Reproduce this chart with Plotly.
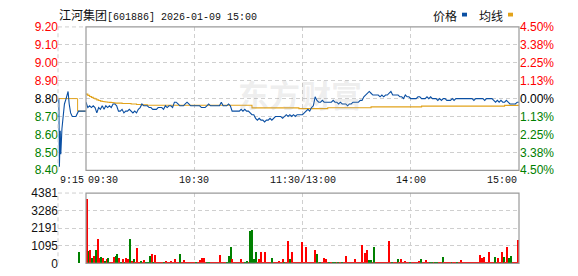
import plotly.graph_objects as go

# ---------------- data ----------------
stock_name = "江河集团"
stock_code = "601886"
timestamp = "2026-01-09 15:00"
legend_labels = ["价格", "均线"]
watermark = "东方财富"
prev_close = 8.80

price_ticks = [8.40, 8.50, 8.60, 8.70, 8.80, 8.90, 9.00, 9.10, 9.20]
price_tick_labels = ["8.40", "8.50", "8.60", "8.70", "8.80", "8.90", "9.00", "9.10", "9.20"]
pct_tick_labels = ["4.50%", "3.38%", "2.25%", "1.13%", "0.00%", "1.13%", "2.25%", "3.38%", "4.50%"]
vol_ticks = [0, 1095, 2191, 3286, 4381]
vol_tick_labels = ["0", "1095", "2191", "3286", "4381"]

pre_label = "9:15"
main_time_ticks = [0, 60, 120, 180, 240]
main_time_labels = ["09:30", "10:30", "11:30/13:00", "14:00", "15:00"]

# pre-market auction (minutes after 9:15)
pre_time = [0.3, 0.5, 0.8, 1.0, 1.4, 2.3, 2.9, 3.6, 4.0, 4.5, 5.1, 6.4, 7.3, 10.0]
pre_price = [8.80, 8.42, 8.62, 8.49, 8.63, 8.77, 8.80, 8.84, 8.77, 8.72, 8.70, 8.70, 8.73, 8.73]
pre_avg_time = [0.3, 7.0, 7.0, 10.0]
pre_avg = [8.80, 8.80, 8.73, 8.73]
pre_vol_time = [7.4]
pre_vol = [710]
pre_vol_dir = ["g"]

# minute index 0..240 (09:30 .. 11:30 | 13:01 .. 15:00)
minutes = list(range(241))

price = [
    8.78, 8.75, 8.76, 8.75, 8.76, 8.75, 8.72, 8.75, 8.74, 8.76,
    8.74, 8.76, 8.75, 8.76, 8.75, 8.77, 8.77, 8.76, 8.73, 8.73,
    8.74, 8.72, 8.73, 8.73, 8.74, 8.73, 8.72, 8.73, 8.72, 8.74,
    8.75, 8.77, 8.76, 8.76, 8.76, 8.75, 8.75, 8.74, 8.74, 8.74,
    8.75, 8.75, 8.75, 8.74, 8.76, 8.75, 8.76, 8.76, 8.75, 8.78,
    8.78, 8.77, 8.76, 8.76, 8.76, 8.77, 8.78, 8.77, 8.76, 8.76,
    8.76, 8.76, 8.76, 8.76, 8.75, 8.75, 8.75, 8.76, 8.77, 8.76,
    8.76, 8.76, 8.76, 8.76, 8.76, 8.78, 8.76, 8.76, 8.76, 8.77,
    8.76, 8.73, 8.73, 8.73, 8.73, 8.73, 8.74, 8.73, 8.74, 8.73,
    8.73, 8.72, 8.71, 8.71, 8.69, 8.68, 8.69, 8.68, 8.68, 8.67,
    8.68, 8.68, 8.69, 8.68, 8.69, 8.70, 8.70, 8.70, 8.70, 8.69,
    8.70, 8.71, 8.70, 8.71, 8.70, 8.71, 8.70, 8.71, 8.71, 8.71,
    8.71, 8.72, 8.73, 8.74, 8.73, 8.75, 8.76, 8.81, 8.79, 8.78,
    8.78, 8.79, 8.78, 8.78, 8.78, 8.78, 8.78, 8.79, 8.78, 8.78,
    8.77, 8.78, 8.77, 8.77, 8.77, 8.76, 8.77, 8.77, 8.78, 8.78,
    8.78, 8.78, 8.79, 8.79, 8.81, 8.82, 8.83, 8.84, 8.83, 8.82,
    8.82, 8.82, 8.82, 8.81, 8.82, 8.81, 8.82, 8.82, 8.83, 8.84,
    8.82, 8.82, 8.82, 8.82, 8.81, 8.81, 8.80, 8.82, 8.81, 8.81,
    8.80, 8.80, 8.80, 8.80, 8.81, 8.81, 8.80, 8.80, 8.80, 8.81,
    8.80, 8.81, 8.80, 8.80, 8.80, 8.79, 8.80, 8.79, 8.80, 8.80,
    8.79, 8.79, 8.79, 8.80, 8.79, 8.80, 8.80, 8.80, 8.80, 8.80,
    8.80, 8.80, 8.80, 8.80, 8.80, 8.79, 8.80, 8.80, 8.80, 8.80,
    8.80, 8.79, 8.80, 8.80, 8.80, 8.80, 8.79, 8.78, 8.79, 8.78,
    8.79, 8.78, 8.78, 8.79, 8.78, 8.77, 8.77, 8.77, 8.77, 8.78,
    8.78,
]

avg = [
    8.825, 8.818, 8.812, 8.807, 8.802, 8.798, 8.793, 8.789, 8.786, 8.784,
    8.782, 8.781, 8.780, 8.779, 8.778, 8.777, 8.775, 8.775, 8.775, 8.775,
    8.773, 8.773, 8.773, 8.773, 8.773, 8.770, 8.770, 8.770, 8.767, 8.767,
    8.767, 8.765, 8.765, 8.765, 8.763, 8.763, 8.763, 8.763, 8.763, 8.763,
    8.763, 8.763, 8.763, 8.763, 8.763, 8.763, 8.763, 8.763, 8.763, 8.763,
    8.763, 8.763, 8.763, 8.763, 8.763, 8.763, 8.763, 8.763, 8.763, 8.763,
    8.763, 8.763, 8.763, 8.763, 8.763, 8.763, 8.763, 8.763, 8.763, 8.763,
    8.763, 8.763, 8.763, 8.763, 8.763, 8.763, 8.763, 8.763, 8.763, 8.763,
    8.763, 8.763, 8.763, 8.763, 8.763, 8.763, 8.763, 8.763, 8.763, 8.763,
    8.763, 8.763, 8.748, 8.748, 8.748, 8.748, 8.748, 8.748, 8.748, 8.748,
    8.748, 8.748, 8.748, 8.748, 8.748, 8.748, 8.748, 8.748, 8.748, 8.748,
    8.748, 8.748, 8.748, 8.748, 8.748, 8.748, 8.748, 8.748, 8.744, 8.744,
    8.744, 8.744, 8.744, 8.744, 8.744, 8.744, 8.744, 8.744, 8.744, 8.744,
    8.744, 8.744, 8.744, 8.744, 8.749, 8.749, 8.749, 8.749, 8.749, 8.749,
    8.749, 8.749, 8.749, 8.749, 8.749, 8.749, 8.749, 8.749, 8.749, 8.749,
    8.749, 8.749, 8.749, 8.749, 8.749, 8.749, 8.749, 8.749, 8.754, 8.754,
    8.754, 8.754, 8.754, 8.754, 8.754, 8.754, 8.754, 8.754, 8.754, 8.754,
    8.754, 8.754, 8.754, 8.754, 8.754, 8.754, 8.754, 8.754, 8.754, 8.754,
    8.754, 8.754, 8.754, 8.754, 8.754, 8.754, 8.758, 8.758, 8.758, 8.758,
    8.758, 8.758, 8.758, 8.758, 8.758, 8.758, 8.758, 8.758, 8.758, 8.758,
    8.758, 8.758, 8.758, 8.758, 8.758, 8.758, 8.758, 8.758, 8.758, 8.758,
    8.758, 8.758, 8.758, 8.758, 8.758, 8.758, 8.758, 8.758, 8.758, 8.758,
    8.758, 8.758, 8.758, 8.758, 8.758, 8.758, 8.758, 8.758, 8.758, 8.758,
    8.758, 8.758, 8.762, 8.762, 8.762, 8.762, 8.762, 8.762, 8.762, 8.762,
    8.762,
]

volume = [
    4020, 770, 830, 355, 470, 830, 1540, 355, 415, 355,
    120, 240, 355, 60, 60, 415, 470, 590, 355, 60,
    295, 60, 355, 295, 1540, 120, 240, 60, 945, 60,
    120, 60, 180, 60, 60, 470, 590, 60, 530, 60,
    50, 60, 50, 40, 120, 50, 60, 120, 50, 240,
    60, 50, 590, 50, 180, 60, 50, 60, 50, 60,
    50, 40, 50, 180, 355, 355, 60, 50, 60, 50,
    60, 100, 50, 60, 530, 50, 60, 50, 40, 470,
    1000, 240, 50, 60, 50, 60, 240, 50, 60, 120,
    50, 2010, 2070, 295, 710, 60, 240, 710, 60, 710,
    50, 60, 50, 355, 50, 60, 50, 120, 50, 295,
    50, 60, 1360, 240, 710, 60, 50, 60, 50, 60,
    1300, 60, 1000, 60, 50, 60, 50, 830, 590, 60,
    50, 60, 355, 295, 60, 50, 60, 50, 60, 50,
    60, 50, 60, 50, 470, 60, 50, 60, 50, 240,
    60, 50, 60, 1120, 60, 650, 830, 180, 180, 50,
    1000, 60, 50, 60, 50, 60, 50, 60, 1360, 60,
    50, 60, 50, 295, 60, 295, 50, 120, 60, 50,
    60, 50, 60, 50, 60, 120, 240, 60, 50, 180,
    60, 50, 60, 50, 60, 50, 60, 50, 415, 60,
    50, 60, 50, 60, 50, 60, 50, 60, 180, 50,
    60, 50, 100, 50, 100, 60, 50, 60, 50, 530,
    355, 415, 60, 50, 710, 60, 50, 415, 100, 355,
    50, 710, 415, 50, 1000, 355, 470, 60, 30, 30,
    1480,
]

volume_dir = list(
    "rgrgrgrrgr" "grgrrrggrg" "rgrrgrgrrr" "grrgggrgrr" "rrrgrrrrrr"
    "rrgrrrrrrr" "rgrrrrrggr" "rrrrrrrrgg" "grrrrrrrgg" "rggggrrrrr"
    "rrrgrrrrrr" "grrgrrrrrr" "rrrrrrrrgr" "grrrrgrggr" "grgrrrrrrr"
    "rrrrrrrggr" "grrrrrrrrr" "grrgrrrrrr" "grrrrrgrrr" "rggrggrrgr"
    "rrrgrrgrrr" "rrrrrrrrrr" "rrrrrrrgrr" "rrgrrggrrr" "r"
)

# ---------------- styling ----------------
W, H = 578, 276
RED, GREEN, BLACK = "#ff0000", "#008000", "#000000"
BLUE, GOLD = "#0a4fa3", "#e2a31b"
GRID, BORDER = "#cfcfcf", "#9a9a9a"
DASH = "4px,3px"
NUM_FONT = "Liberation Sans, Arial, sans-serif"
MONO_FONT = "Liberation Mono, Noto Sans CJK SC, monospace"
CJK_FONT = "Noto Sans CJK SC, sans-serif"


def px(x):
    return x / W


def py(y):
    return 1 - y / H


def tone(v):
    if v > prev_close + 1e-9:
        return RED
    if v < prev_close - 1e-9:
        return GREEN
    return BLACK


def span(t, c):
    return f'<span style="color:{c}">{t}</span>'


pre_dom = [px(58), px(86)]
main_dom = [px(86), px(519)]
price_dom = [py(172), py(21)]
vol_dom = [py(270), py(196)]

fig = go.Figure()

# price panel
fig.add_trace(go.Scatter(x=pre_avg_time, y=pre_avg, xaxis="x2", yaxis="y",
                         mode="lines", line=dict(color=GOLD, width=1), hoverinfo="skip"))
fig.add_trace(go.Scatter(x=pre_time, y=pre_price, xaxis="x2", yaxis="y",
                         mode="lines", line=dict(color=BLUE, width=1.1), hoverinfo="skip"))
fig.add_trace(go.Scatter(x=minutes, y=avg, xaxis="x", yaxis="y",
                         mode="lines", line=dict(color=GOLD, width=1.1, shape="hv"), hoverinfo="skip"))
fig.add_trace(go.Scatter(x=minutes, y=price, xaxis="x", yaxis="y",
                         mode="lines", line=dict(color=BLUE, width=1.1), hoverinfo="skip"))
# carrier for right percent axis
fig.add_trace(go.Scatter(x=minutes, y=price, xaxis="x", yaxis="y5",
                         mode="lines", line=dict(width=0), opacity=0, hoverinfo="skip"))

# volume panel
fig.add_trace(go.Bar(x=pre_vol_time, y=pre_vol, xaxis="x4", yaxis="y3", width=0.35,
                     marker=dict(color=[RED if d == "r" else GREEN for d in pre_vol_dir], line=dict(width=0)),
                     hoverinfo="skip"))
fig.add_trace(go.Bar(x=minutes, y=volume, xaxis="x3", yaxis="y3", width=0.6,
                     marker=dict(color=[RED if d == "r" else GREEN for d in volume_dir], line=dict(width=0)),
                     hoverinfo="skip"))

common_x = dict(showticklabels=False, ticks="", zeroline=False, showline=False, fixedrange=True)

fig.update_layout(
    width=W, height=H, margin=dict(l=0, r=0, t=0, b=0),
    paper_bgcolor="white", plot_bgcolor="white", showlegend=False, bargap=0,
    xaxis=dict(domain=main_dom, range=[0, 240], anchor="y", tickvals=main_time_ticks[1:4],
               showgrid=True, gridcolor=GRID, griddash=DASH, **common_x),
    xaxis2=dict(domain=pre_dom, range=[0, 10], anchor="y", showgrid=False, **common_x),
    xaxis3=dict(domain=main_dom, range=[-0.5, 240.5], anchor="y3", tickvals=main_time_ticks[1:4],
                showgrid=True, gridcolor=GRID, griddash=DASH, **common_x),
    xaxis4=dict(domain=pre_dom, range=[0, 10], anchor="y3", showgrid=False, **common_x),
    yaxis=dict(domain=price_dom, range=[8.3999, 9.2001], anchor="free", position=px(58),
               tickvals=price_ticks,
               ticktext=[span(t, tone(v)) for t, v in zip(price_tick_labels, price_ticks)],
               showgrid=True, gridcolor=GRID, griddash=DASH, zeroline=False, ticks="",
               tickfont=dict(family=NUM_FONT, size=12), fixedrange=True),
    yaxis5=dict(domain=price_dom, range=[8.3999, 9.2001], overlaying="y", anchor="x", side="right",
                tickvals=price_ticks,
                ticktext=[span(t, tone(v)) for t, v in zip(pct_tick_labels, price_ticks)],
                showgrid=False, zeroline=False, ticks="",
                tickfont=dict(family=NUM_FONT, size=12), fixedrange=True),
    yaxis3=dict(domain=vol_dom, range=[0, 4381.5], anchor="free", position=px(58),
                tickvals=vol_ticks, ticktext=vol_tick_labels,
                showgrid=True, gridcolor=GRID, griddash=DASH, zeroline=False, ticks="",
                tickfont=dict(family=NUM_FONT, size=12, color="#111111"), fixedrange=True),
)

shapes = []
for yd in (price_dom, vol_dom):
    shapes.append(dict(type="rect", xref="paper", yref="paper", x0=main_dom[0], x1=main_dom[1],
                       y0=yd[0], y1=yd[1], line=dict(color=BORDER, width=1.2), layer="above"))
    shapes.append(dict(type="line", xref="paper", yref="paper", x0=pre_dom[0], x1=pre_dom[0],
                       y0=yd[0], y1=yd[1], line=dict(color=GRID, width=1, dash=DASH)))
    shapes.append(dict(type="line", xref="paper", yref="paper", x0=pre_dom[0], x1=pre_dom[1],
                       y0=yd[1], y1=yd[1], line=dict(color=GRID, width=1, dash=DASH)))
shapes.append(dict(type="rect", xref="paper", yref="paper", x0=px(462), x1=px(467), y0=py(10), y1=py(6),
                   fillcolor=BLUE, line=dict(width=0)))
shapes.append(dict(type="rect", xref="paper", yref="paper", x0=px(508), x1=px(513), y0=py(10), y1=py(6),
                   fillcolor=GOLD, line=dict(width=0)))
fig.update_layout(shapes=shapes)

ann = []
ann.append(dict(xref="paper", yref="paper", x=px(300), y=py(91), xanchor="center", yanchor="middle",
                text=f"<b>{watermark}</b>",
                showarrow=False, font=dict(family=CJK_FONT, size=31, color="rgba(150,150,150,0.17)")))
ann.append(dict(xref="paper", yref="paper", x=px(57), y=py(9), xanchor="left", yanchor="middle",
                text=f'<span style="font-size:12px">{stock_name}</span>[{stock_code}] {timestamp}',
                showarrow=False, font=dict(family=MONO_FONT, size=10, color="#111111")))
ann.append(dict(xref="paper", yref="paper", x=px(431), y=py(8.5), xanchor="left", yanchor="middle",
                text=legend_labels[0], showarrow=False, font=dict(family=CJK_FONT, size=12, color="#111111")))
ann.append(dict(xref="paper", yref="paper", x=px(477), y=py(8.5), xanchor="left", yanchor="middle",
                text=legend_labels[1], showarrow=False, font=dict(family=CJK_FONT, size=12, color="#111111")))
ann.append(dict(xref="x2", yref="paper", x=0, y=py(182.5), xanchor="left", yanchor="middle",
                text=pre_label, showarrow=False, font=dict(family=MONO_FONT, size=10, color="#111111")))
anchors = ["left", "center", "center", "center", "right"]
for v, t, a in zip(main_time_ticks, main_time_labels, anchors):
    ann.append(dict(xref="x", yref="paper", x=v, y=py(182.5), xanchor=a, yanchor="middle",
                    text=t, showarrow=False, font=dict(family=MONO_FONT, size=10, color="#111111")))
fig.update_layout(annotations=ann)

fig.write_html("out.html")
